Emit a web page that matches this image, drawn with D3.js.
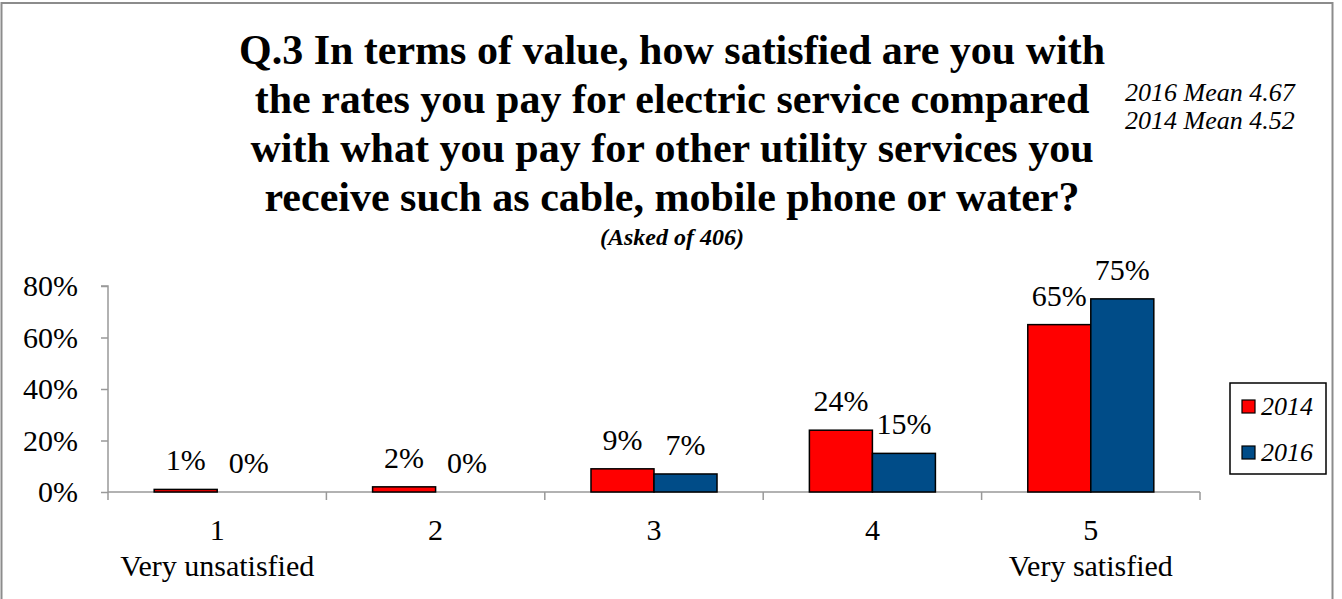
<!DOCTYPE html>
<html>
<head>
<meta charset="utf-8">
<script src="https://cdn.jsdelivr.net/npm/d3@7"></script>
<style>
  html, body { margin: 0; padding: 0; background: #fff; }
  svg { display: block; font-family: "Liberation Serif", "Times New Roman", serif; }
</style>
</head>
<body>
<svg id="chart" width="1342" height="599"></svg>
<script>
// Satisfaction scale categories and responses per survey year (fractions)
const categories = ["1", "2", "3", "4", "5"];
const categorySubLabels = ["Very unsatisfied", "", "", "", "Very satisfied"];
const seriesNames = ["2014", "2016"];
const values2014 = [0.01, 0.02, 0.09, 0.24, 0.65];
const values2016 = [0.00, 0.00, 0.07, 0.15, 0.75];
const yTicks = [0, 0.2, 0.4, 0.6, 0.8];
const titleLines = [
  "Q.3 In terms of value, how satisfied are you with",
  "the rates you pay for electric service compared",
  "with what you pay for other utility services you",
  "receive such as cable, mobile phone or water?"
];
const subtitle = "(Asked of 406)";
const meanNotes = ["2016 Mean 4.67", "2014 Mean 4.52"];

const colors = { "2014": "#ff0000", "2016": "#004c88" };
const seriesValues = { "2014": values2014, "2016": values2016 };

const svg = d3.select("#chart");

// outer frame
svg.append("rect")
  .attr("x", 1.5).attr("y", 3)
  .attr("width", 1331).attr("height", 610)
  .attr("fill", "none").attr("stroke", "#8c8c8c").attr("stroke-width", 2);

// plot geometry
const plot = { left: 108, right: 1200, top: 286, bottom: 492 };

const x = d3.scaleBand().domain(categories).range([plot.left, plot.right]).padding(0);
const xs = d3.scaleBand().domain(seriesNames).range([0, x.bandwidth()])
  .paddingInner(0).paddingOuter(0.733);
const y = d3.scaleLinear().domain([0, 0.8]).range([plot.bottom, plot.top]);

// title
const title = svg.append("text")
  .attr("text-anchor", "middle")
  .attr("font-weight", "bold")
  .attr("font-size", 42)
  .attr("fill", "#000");
titleLines.forEach((t, i) => {
  title.append("tspan").attr("x", 672).attr("y", 64 + i * 49).text(t);
});
svg.append("text")
  .attr("x", 672).attr("y", 245)
  .attr("text-anchor", "middle")
  .attr("font-weight", "bold").attr("font-style", "italic")
  .attr("font-size", 24)
  .text(subtitle);

// mean annotations
meanNotes.forEach((t, i) => {
  svg.append("text")
    .attr("x", 1125).attr("y", 101 + i * 28)
    .attr("font-style", "italic")
    .attr("font-size", 26)
    .text(t);
});

// y axis
const yAxis = d3.axisLeft(y).tickValues(yTicks).tickFormat(d3.format(".0%")).tickSize(7).tickPadding(23);
const gy = svg.append("g").attr("transform", `translate(${plot.left},0)`).call(yAxis);
gy.select(".domain").attr("stroke", "#999").attr("stroke-width", 1.5).attr("d", `M-7,${plot.top}H0V${plot.bottom}`);
gy.selectAll(".tick line").attr("stroke", "#999").attr("stroke-width", 1.5);
gy.selectAll(".tick text").attr("font-size", 30).attr("fill", "#000")
  .attr("font-family", "Liberation Serif, Times New Roman, serif");

// x axis (category boundaries as ticks)
const gx = svg.append("g");
gx.append("line")
  .attr("x1", plot.left).attr("x2", plot.right)
  .attr("y1", plot.bottom).attr("y2", plot.bottom)
  .attr("stroke", "#999").attr("stroke-width", 1.5);
const boundaries = categories.map(c => x(c)).concat([x(categories[categories.length - 1]) + x.bandwidth()]);
gx.selectAll("line.tick").data(boundaries).join("line")
  .attr("class", "tick")
  .attr("x1", d => d).attr("x2", d => d)
  .attr("y1", plot.bottom).attr("y2", plot.bottom + 8)
  .attr("stroke", "#999").attr("stroke-width", 1.5);

// bars
const groups = svg.append("g").selectAll("g").data(categories).join("g")
  .attr("transform", c => `translate(${x(c)},0)`);
seriesNames.forEach(s => {
  groups.append("rect")
    .attr("x", xs(s))
    .attr("width", xs.bandwidth())
    .attr("y", (c, i) => y(seriesValues[s][i]))
    .attr("height", (c, i) => plot.bottom - y(seriesValues[s][i]))
    .attr("fill", colors[s])
    .attr("stroke", "#000")
    .attr("stroke-width", 1.5);
  groups.append("text")
    .attr("x", xs(s) + xs.bandwidth() / 2)
    .attr("y", (c, i) => y(seriesValues[s][i]) - 19)
    .attr("text-anchor", "middle")
    .attr("font-size", 30)
    .text((c, i) => d3.format(".0%")(seriesValues[s][i]));
});

// category labels
categories.forEach((c, i) => {
  const cx = x(c) + x.bandwidth() / 2;
  svg.append("text").attr("x", cx).attr("y", 540)
    .attr("text-anchor", "middle").attr("font-size", 30).text(c);
  if (categorySubLabels[i]) {
    svg.append("text").attr("x", cx).attr("y", 576)
      .attr("text-anchor", "middle").attr("font-size", 30).text(categorySubLabels[i]);
  }
});

// legend
const legend = svg.append("g");
legend.append("rect")
  .attr("x", 1230).attr("y", 383).attr("width", 96).attr("height", 91)
  .attr("fill", "#fff").attr("stroke", "#000").attr("stroke-width", 1.5);
seriesNames.forEach((s, i) => {
  legend.append("rect")
    .attr("x", 1242).attr("y", 400 + i * 46).attr("width", 13).attr("height", 13)
    .attr("fill", colors[s]).attr("stroke", "#000").attr("stroke-width", 1.2);
  legend.append("text")
    .attr("x", 1261).attr("y", 415 + i * 46)
    .attr("font-style", "italic").attr("font-size", 26)
    .text(s);
});
</script>
</body>
</html>
